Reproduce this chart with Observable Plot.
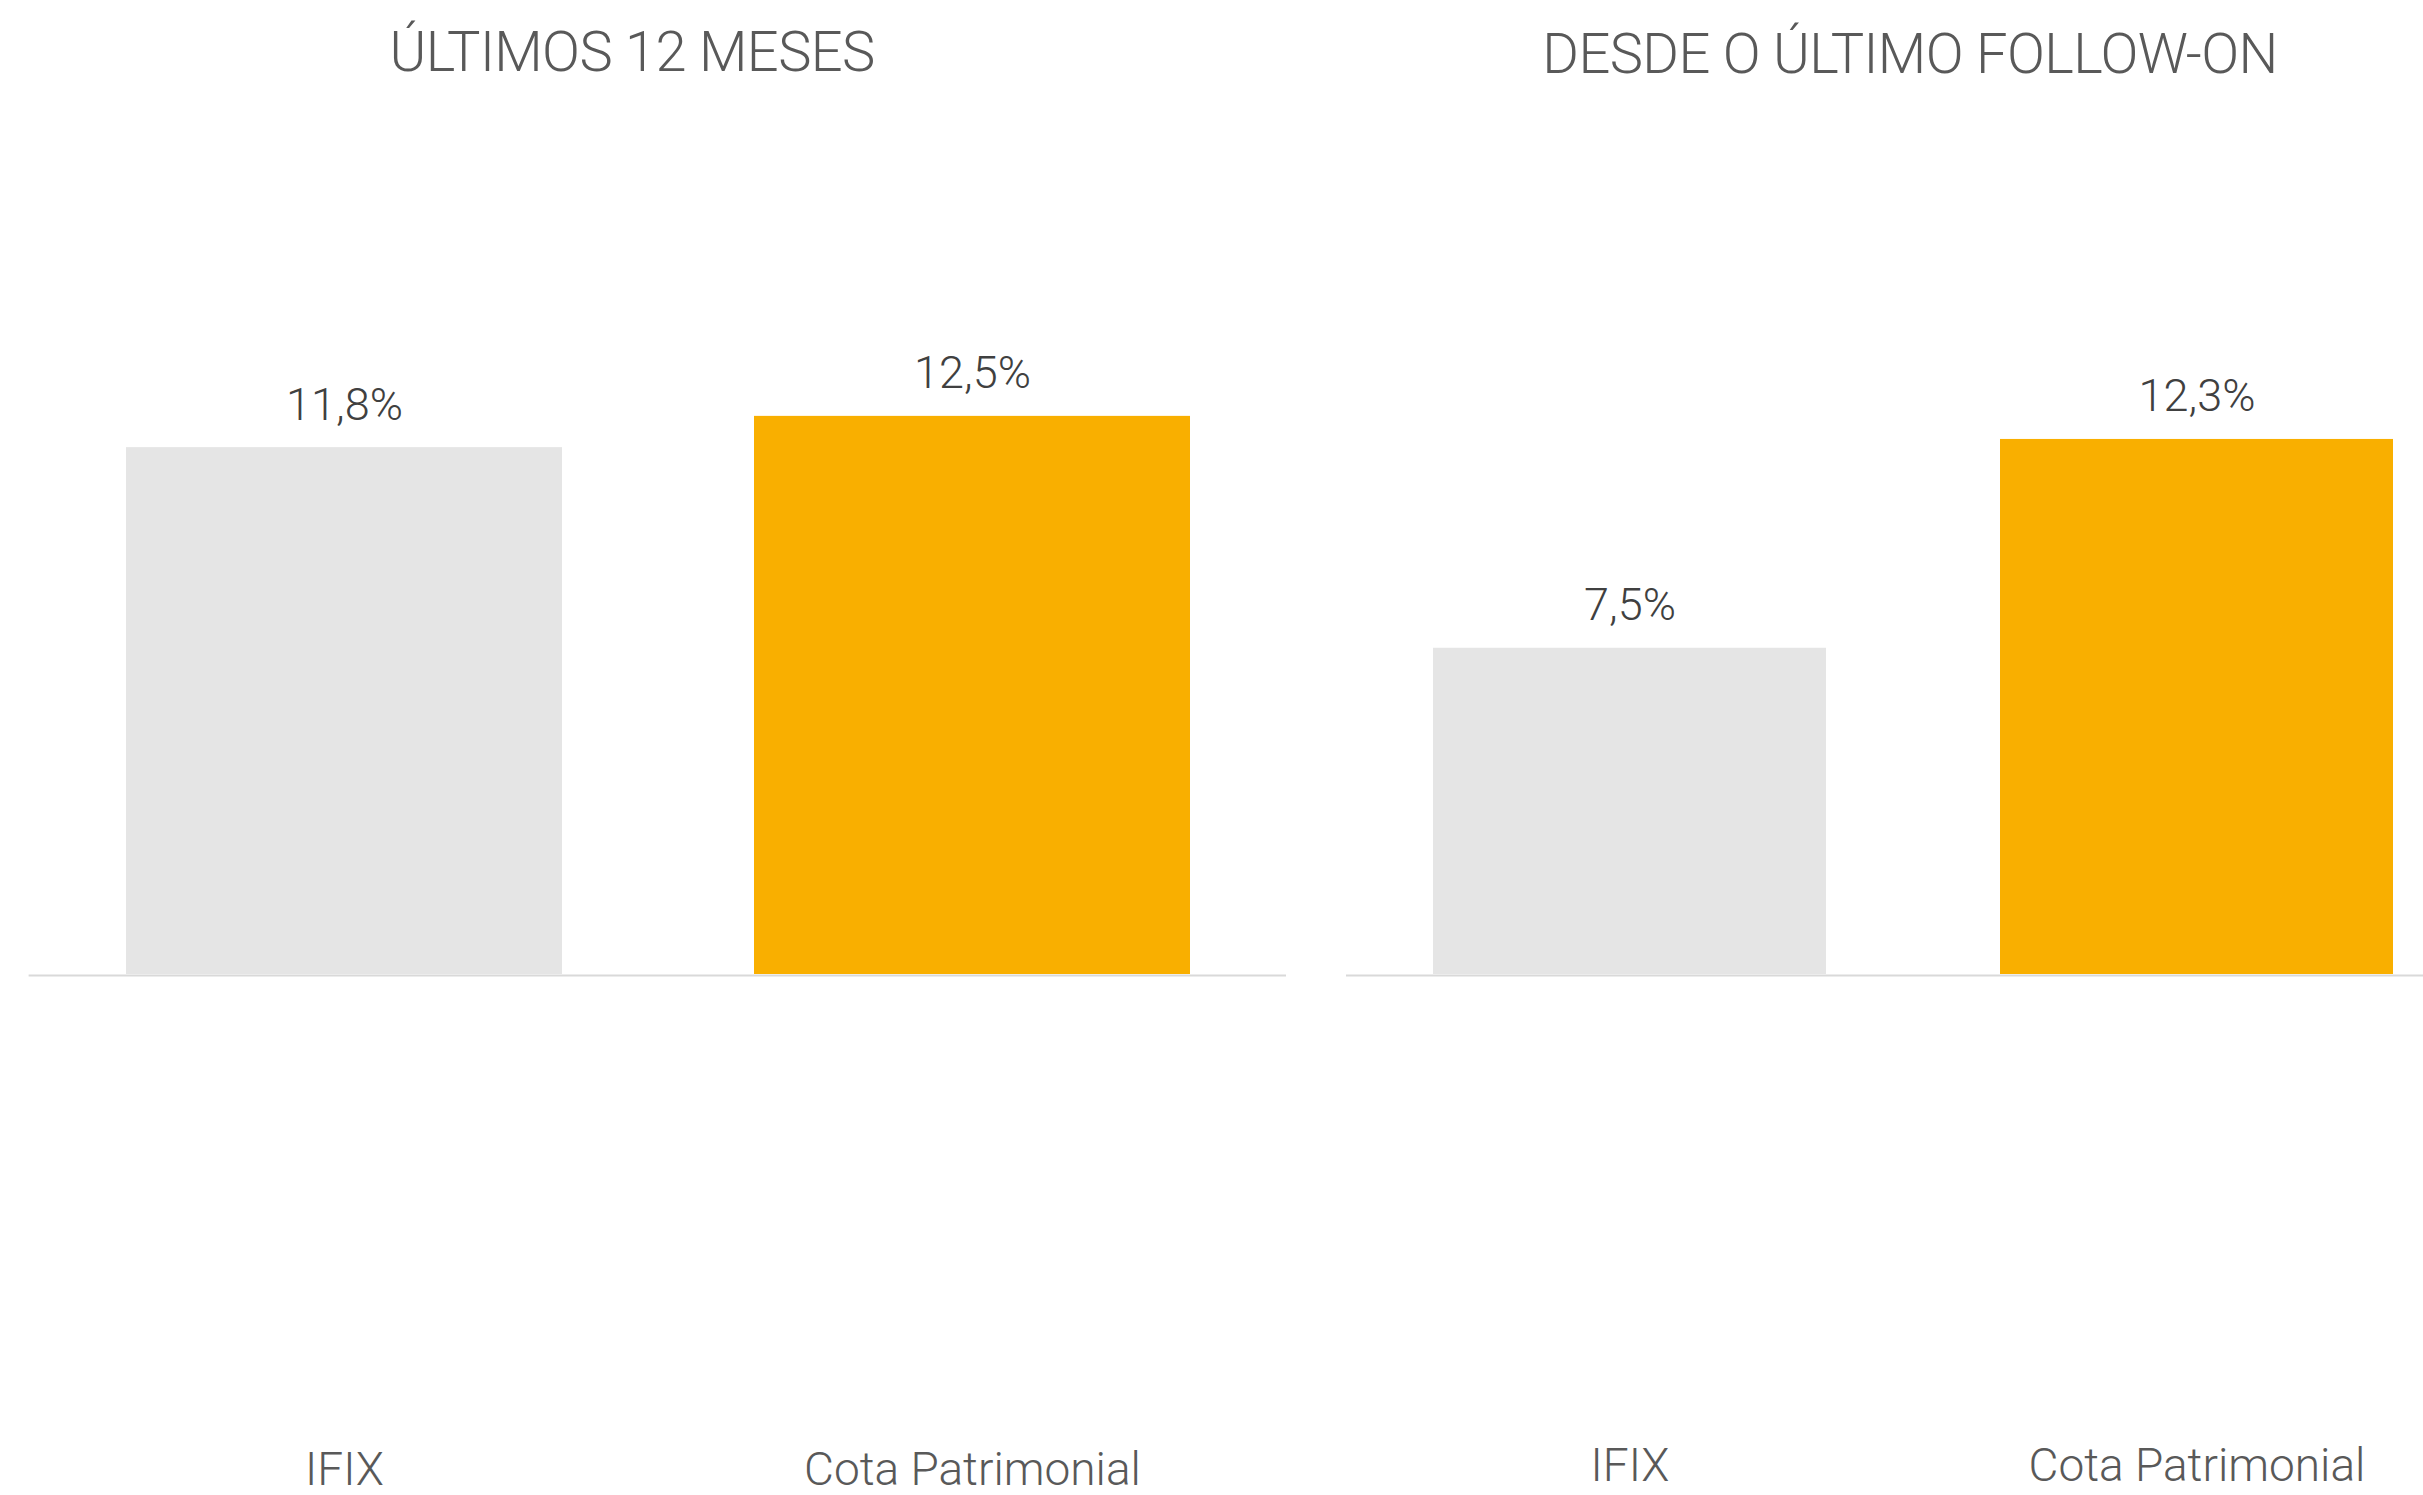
<!DOCTYPE html>
<html><head><meta charset="utf-8">
<script src="https://cdn.jsdelivr.net/npm/d3@7"></script>
<script src="https://cdn.jsdelivr.net/npm/@observablehq/plot@0.6"></script>
<style>
html,body{margin:0;padding:0;background:#fff;overflow:hidden;width:2423px;height:1495px;}
#root{position:relative;width:2423px;height:1495px;overflow:hidden;font-family:Roboto,sans-serif;}
.title{position:absolute;font-size:56px;line-height:56px;font-weight:300;color:#595959;white-space:nowrap;letter-spacing:-0.6px;transform:translateX(-50%);}
.panel{position:absolute;top:110px;}
</style></head><body><div id="root"></div>
<script>
// ---- data ----
const categories = ["IFIX", "Cota Patrimonial"];
const panelTitles = ["ÚLTIMOS 12 MESES", "DESDE O ÚLTIMO FOLLOW-ON"];
const values12m = [11.8, 12.5];
const valuesFollowOn = [7.5, 12.3];
const barColors = ["#E5E5E5", "#F9AF00"];

const fmt = v => v.toFixed(1).replace(".", ",") + "%";

function panel({values, width, marginLeft, marginRight, marginTop, catDy}) {
  const data = categories.map((c, i) => ({cat: c, value: values[i]}));
  return Plot.plot({
    width, height: 1385, marginLeft, marginRight, marginTop, marginBottom: 521,
    x: {domain: categories, paddingInner: 0.3065, paddingOuter: 0.153, axis: null},
    y: {domain: [0, 19], axis: null},
    color: {domain: categories, range: barColors},
    style: {fontFamily: "Roboto, sans-serif", background: "transparent", overflow: "visible"},
    marks: [
      Plot.barY(data, {x: "cat", y: "value", fill: "cat"}),
      Plot.ruleY([0], {stroke: "#D9D9D9", strokeWidth: 2, dy: 1}),
      Plot.text(data, {x: "cat", y: "value", text: d => fmt(d.value), dy: -28, lineAnchor: "bottom", fontSize: 45, fontWeight: 300, fill: "#404040"}),
      Plot.text(data, {x: "cat", y: d => 0, text: "cat", dy: catDy, lineAnchor: "bottom", fontSize: 46, fontWeight: 300, fill: "#595959"})
    ]
  });
}

const root = document.getElementById("root");

function addTitle(text, cx, top) {
  const d = document.createElement("div");
  d.className = "title";
  d.textContent = text;
  d.style.left = cx + "px";
  d.style.top = top + "px";
  root.appendChild(d);
}
addTitle(panelTitles[0], 632, 24);
addTitle(panelTitles[1], 1910, 26);

const left = panel({values: values12m, width: 1300, marginLeft: 28.6, marginRight: 14, marginTop: 15.65, catDy: 510});
left.classList.add("panel");
left.style.left = "0px";
root.appendChild(left);

const right = panel({values: valuesFollowOn, width: 1200, marginLeft: 46, marginRight: 19.3, marginTop: 37.5, catDy: 506});
right.classList.add("panel");
right.style.left = "1300px";
root.appendChild(right);
</script>
</body></html>
